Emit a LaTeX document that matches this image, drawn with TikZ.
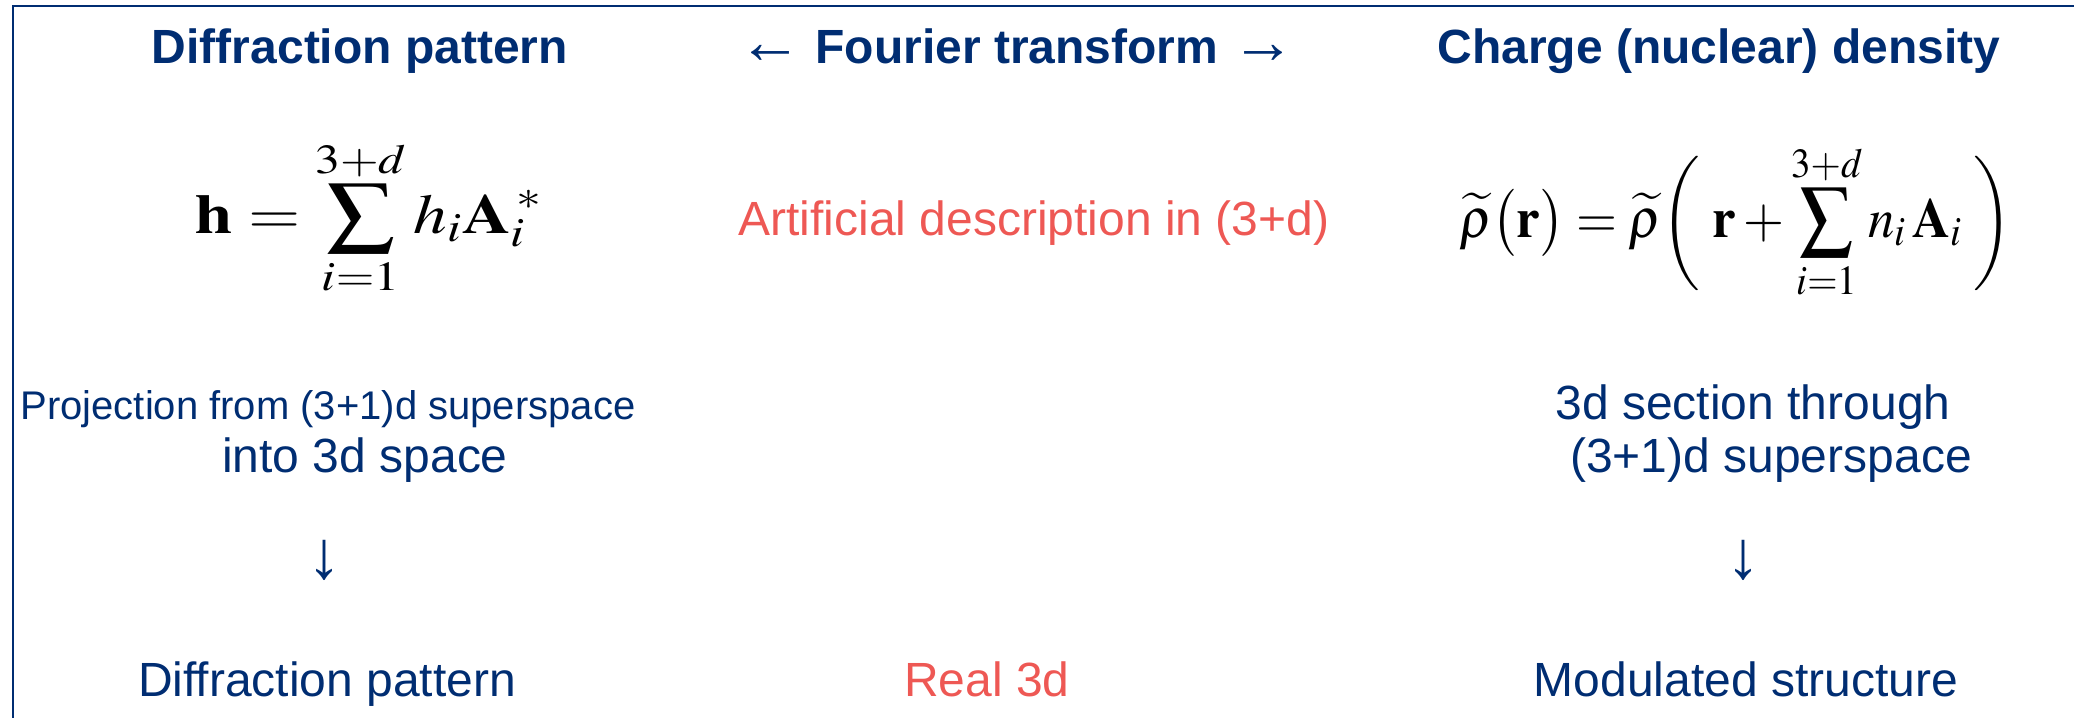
\documentclass[tikz,border=0pt]{standalone}
\usepackage{amsmath}
\usepackage{mathptmx}
\usepackage[no-math]{fontspec}
\setmainfont{Liberation Sans}
\definecolor{navy}{RGB}{0,45,114}
\definecolor{salmon}{RGB}{238,88,84}
\tikzset{
  head/.style={font=\fontsize{24}{28}\selectfont\bfseries, text=navy, anchor=base, inner sep=0pt},
  body/.style={font=\fontsize{24}{28}\selectfont, text=navy, anchor=base, inner sep=0pt},
  small/.style={body, font=\fontsize{20}{24}\selectfont},
  note/.style={body, text=salmon},
  eq/.style={font=\fontsize{28}{34}\selectfont, text=black, anchor=base, inner sep=0pt},
  glyph/.style={body, anchor=center, font=\fontsize{34}{40}\selectfont}
}
\newcommand{\harrow}[1]{{\mdseries\fontsize{32}{36}\selectfont #1}}
\begin{document}
\begin{tikzpicture}[x=0.5pt, y=-0.5pt]
  \useasboundingbox (0,0) rectangle (2074,718);
  % frame lines along the top and the left edge
  \coordinate (bl) at (13,718);
  \coordinate (tr) at (2074,6);
  \draw[navy, line width=1pt] (bl) |- (tr);

  % column headings
  \node[head] (hl) at (360,63) {Diffraction pattern};
  \node[head] (hm) at (1017,63) {\harrow{←}\ Fourier transform\ \harrow{→}};
  \node[head] (hr) at (1719,63) {Charge (nuclear) density};

  % formulas
  \node[eq, xscale=1.2] (fl) at (369,233) {$\displaystyle \mathbf{h}=\sum_{i=1}^{3+d} h_{i}\mathbf{A}^{\,*}_{i}$};
  \node[note] (fm) at (1034,235) {Artificial description in (3+d)};
  \node[eq, xscale=0.94] (fr) at (1736,237) {$\displaystyle \widetilde{\rho}\bigl(\mathbf{r}\bigr)=\widetilde{\rho}\biggl(\;\mathbf{r}+\sum_{i=1}^{3+d} n_{i}\,\mathbf{A}_{i}\;\biggr)$};

  % explanations
  \node[small] (pl1) at (328,419) {Projection from (3+1)d superspace};
  \node[body] (pl2) at (365,472) {into 3d space};
  \node[body] (pr1) at (1753,419) {3d section through};
  \node[body] (pr2) at (1771,472) {(3+1)d superspace};

  % downward arrows
  \node[glyph] (al) at (324,560) {↓};
  \node[glyph] (ar) at (1743,560) {↓};

  % results
  \node[body] (bl1) at (327,696) {Diffraction pattern};
  \node[note] (bm) at (987,696) {Real 3d};
  \node[body] (br1) at (1746,696) {Modulated structure};
\end{tikzpicture}
\end{document}
